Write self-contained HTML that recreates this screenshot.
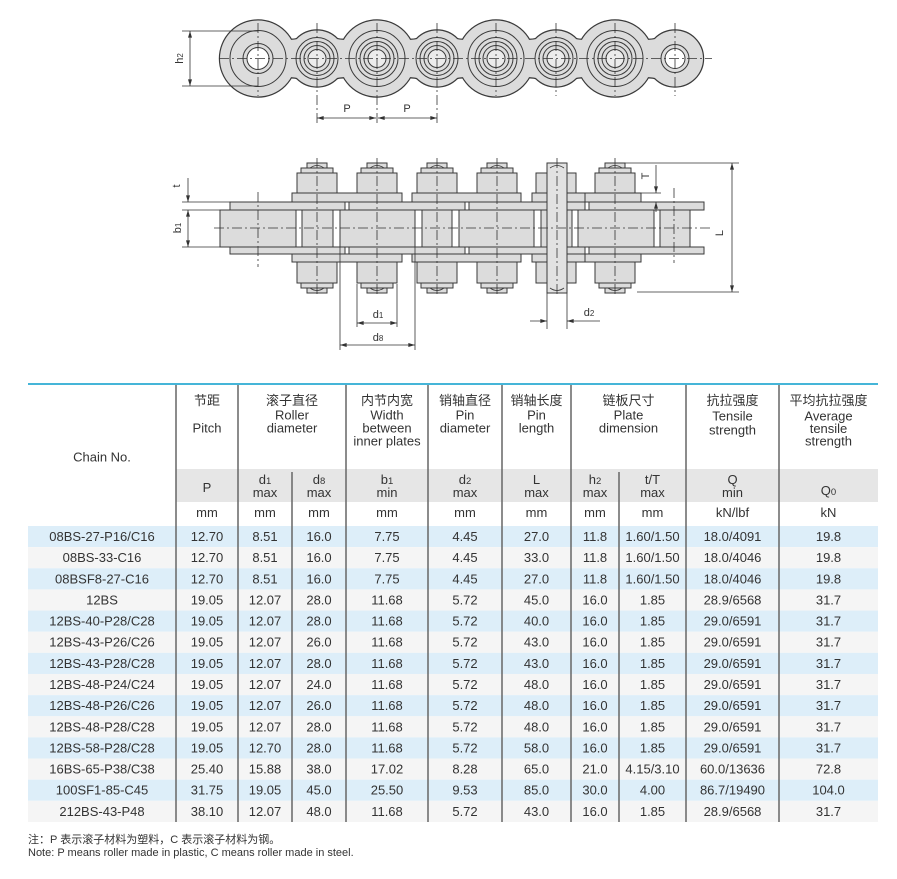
<!DOCTYPE html>
<html><head><meta charset="utf-8"><style>
html,body{margin:0;padding:0;background:#fff;}
svg{display:block;}
text{font-family:"Liberation Sans","Noto Sans CJK SC",sans-serif;}
</style></head><body>
<svg width="897" height="879" viewBox="0 0 897 879" xmlns="http://www.w3.org/2000/svg">
<defs>
<marker id="a" viewBox="0 0 10 6" refX="10" refY="3" markerWidth="7" markerHeight="4" orient="auto-start-reverse" markerUnits="userSpaceOnUse"><path d="M0,0 L10,3 L0,6 z" fill="#333"/></marker>
</defs>
<rect width="897" height="879" fill="#fff"/>

<!-- ===== TOP DRAWING ===== -->
<g stroke="#3a3a3a" stroke-width="2.4" fill="#dcdcdc">
<path d="M258,32 Q287.5,48 317,32 Q347,48 377,32 Q407,48 437,32 Q466.5,48 496,32 Q526,48 556,32 Q585.5,48 615,32 Q645,48 675,32 L675,85 Q645,69 615,85 Q585.5,69 556,85 Q526,69 496,85 Q466.5,69 437,85 Q407,69 377,85 Q347,69 317,85 Q287.5,69 258,85 Z"/>
<circle cx="258" cy="58.5" r="38"/><circle cx="377" cy="58.5" r="38"/><circle cx="496" cy="58.5" r="38"/><circle cx="615" cy="58.5" r="38"/>
<circle cx="317" cy="58.5" r="28"/><circle cx="437" cy="58.5" r="28"/><circle cx="556" cy="58.5" r="28"/><circle cx="675" cy="58.5" r="28"/>
</g>
<g fill="#dcdcdc" stroke="none">
<path d="M258,32 Q287.5,48 317,32 Q347,48 377,32 Q407,48 437,32 Q466.5,48 496,32 Q526,48 556,32 Q585.5,48 615,32 Q645,48 675,32 L675,85 Q645,69 615,85 Q585.5,69 556,85 Q526,69 496,85 Q466.5,69 437,85 Q407,69 377,85 Q347,69 317,85 Q287.5,69 258,85 Z"/>
<circle cx="258" cy="58.5" r="38"/><circle cx="377" cy="58.5" r="38"/><circle cx="496" cy="58.5" r="38"/><circle cx="615" cy="58.5" r="38"/>
<circle cx="317" cy="58.5" r="28"/><circle cx="437" cy="58.5" r="28"/><circle cx="556" cy="58.5" r="28"/><circle cx="675" cy="58.5" r="28"/>
</g>
<g stroke="#3a3a3a" stroke-width="1" fill="none">
<circle cx="258" cy="58.5" r="28"/><circle cx="377" cy="58.5" r="28"/><circle cx="496" cy="58.5" r="28"/><circle cx="615" cy="58.5" r="28"/>
<circle cx="258" cy="58.5" r="15"/>
<circle cx="675" cy="58.5" r="14"/>
<circle cx="317" cy="58.5" r="21"/><circle cx="317" cy="58.5" r="17"/><circle cx="317" cy="58.5" r="13"/>
<circle cx="377" cy="58.5" r="21"/><circle cx="377" cy="58.5" r="17"/><circle cx="377" cy="58.5" r="13"/>
<circle cx="437" cy="58.5" r="21"/><circle cx="437" cy="58.5" r="17"/><circle cx="437" cy="58.5" r="13"/>
<circle cx="496" cy="58.5" r="21"/><circle cx="496" cy="58.5" r="17"/><circle cx="496" cy="58.5" r="13"/>
<circle cx="556" cy="58.5" r="21"/><circle cx="556" cy="58.5" r="17"/><circle cx="556" cy="58.5" r="13"/>
<circle cx="615" cy="58.5" r="21"/><circle cx="615" cy="58.5" r="17"/><circle cx="615" cy="58.5" r="13"/>
</g>
<g stroke="#3a3a3a" stroke-width="1" fill="#ececec">
<circle cx="317" cy="58.5" r="9"/><circle cx="377" cy="58.5" r="9"/><circle cx="437" cy="58.5" r="9"/><circle cx="496" cy="58.5" r="9"/><circle cx="556" cy="58.5" r="9"/><circle cx="615" cy="58.5" r="9"/>
</g>
<g stroke="#3a3a3a" stroke-width="1" fill="#fff">
<circle cx="258" cy="58.5" r="11"/><circle cx="675" cy="58.5" r="10"/>
</g>
<g stroke="#333" stroke-width="0.8" fill="none" stroke-dasharray="10 3 2 3">
<line x1="219" y1="58.5" x2="712" y2="58.5"/>
<line x1="258" y1="23" x2="258" y2="96"/>
<line x1="496" y1="23" x2="496" y2="96"/>
<line x1="556" y1="23" x2="556" y2="96"/>
<line x1="615" y1="23" x2="615" y2="96"/>
<line x1="675" y1="23" x2="675" y2="96"/>
</g>
<g stroke="#333" stroke-width="0.8" fill="none">
<line x1="317" y1="23" x2="317" y2="123" stroke-dasharray="10 3 2 3"/>
<line x1="377" y1="23" x2="377" y2="123" stroke-dasharray="10 3 2 3"/>
<line x1="437" y1="23" x2="437" y2="123" stroke-dasharray="10 3 2 3"/>
<line x1="182" y1="31" x2="258" y2="31"/>
<line x1="182" y1="86" x2="258" y2="86"/>
<line x1="190" y1="31" x2="190" y2="86" marker-start="url(#a)" marker-end="url(#a)"/>
<line x1="317" y1="118" x2="376" y2="118" marker-start="url(#a)" marker-end="url(#a)"/>
<line x1="378" y1="118" x2="437" y2="118" marker-start="url(#a)" marker-end="url(#a)"/>
</g>
<g font-size="11" fill="#333" text-anchor="middle">
<text transform="translate(183,58.5) rotate(-90)">h<tspan font-size="8">2</tspan></text>
<text x="347" y="112">P</text>
<text x="407" y="112">P</text>
</g>

<!-- ===== MIDDLE DRAWING ===== -->
<g stroke="#3a3a3a" stroke-width="1" fill="#dcdcdc">
<rect x="220" y="210" width="76" height="37"/>
<rect x="340" y="210" width="75" height="37"/>
<rect x="459" y="210" width="75" height="37"/>
<rect x="578" y="210" width="76" height="37"/>
<rect x="302" y="210" width="31" height="37"/>
<rect x="422" y="210" width="30" height="37"/>
<rect x="541" y="210" width="31" height="37"/>
<rect x="660" y="210" width="30" height="37"/>
<rect x="230" y="202" width="115" height="8"/><rect x="349" y="202" width="116" height="8"/><rect x="469" y="202" width="116" height="8"/><rect x="589" y="202" width="115" height="8"/>
<rect x="230" y="247" width="115" height="7"/><rect x="349" y="247" width="116" height="7"/><rect x="469" y="247" width="116" height="7"/><rect x="589" y="247" width="115" height="7"/>
<rect x="292" y="193" width="110" height="9"/><rect x="412" y="193" width="109" height="9"/><rect x="532" y="193" width="53" height="9"/><rect x="585" y="193" width="56" height="9"/>
<rect x="292" y="254" width="110" height="8"/><rect x="412" y="254" width="109" height="8"/><rect x="532" y="254" width="53" height="8"/><rect x="585" y="254" width="56" height="8"/>
<rect x="297" y="173" width="40" height="20"/><rect x="357" y="173" width="40" height="20"/><rect x="417" y="173" width="40" height="20"/><rect x="477" y="173" width="40" height="20"/><rect x="536" y="173" width="40" height="20"/><rect x="595" y="173" width="40" height="20"/>
<rect x="297" y="262" width="40" height="21"/><rect x="357" y="262" width="40" height="21"/><rect x="417" y="262" width="40" height="21"/><rect x="477" y="262" width="40" height="21"/><rect x="536" y="262" width="40" height="21"/><rect x="595" y="262" width="40" height="21"/>
<rect x="301" y="168" width="32" height="5"/><rect x="361" y="168" width="32" height="5"/><rect x="421" y="168" width="32" height="5"/><rect x="481" y="168" width="32" height="5"/><rect x="599" y="168" width="32" height="5"/>
<rect x="301" y="283" width="32" height="5"/><rect x="361" y="283" width="32" height="5"/><rect x="421" y="283" width="32" height="5"/><rect x="481" y="283" width="32" height="5"/><rect x="599" y="283" width="32" height="5"/>
<rect x="307" y="163" width="20" height="5"/><rect x="367" y="163" width="20" height="5"/><rect x="427" y="163" width="20" height="5"/><rect x="487" y="163" width="20" height="5"/><rect x="605" y="163" width="20" height="5"/>
<rect x="307" y="288" width="20" height="5"/><rect x="367" y="288" width="20" height="5"/><rect x="427" y="288" width="20" height="5"/><rect x="487" y="288" width="20" height="5"/><rect x="605" y="288" width="20" height="5"/>
<rect x="547" y="163" width="20" height="130" fill="#e2e2e2"/>
</g>
<g stroke="#3a3a3a" stroke-width="0.8" fill="none">
<path d="M310,168 Q317,163 324,168 M370,168 Q377,163 384,168 M430,168 Q437,163 444,168 M490,168 Q497,163 504,168 M608,168 Q615,163 622,168 M550,168 Q557,163 564,168"/>
<path d="M310,288 Q317,293 324,288 M370,288 Q377,293 384,288 M430,288 Q437,293 444,288 M490,288 Q497,293 504,288 M608,288 Q615,293 622,288 M550,288 Q557,293 564,288"/>
</g>
<g stroke="#333" stroke-width="0.8" fill="none" stroke-dasharray="10 3 2 3">
<line x1="214" y1="228" x2="712" y2="228"/>
<line x1="258" y1="192" x2="258" y2="267"/>
<line x1="674" y1="188" x2="674" y2="263"/>
<line x1="317" y1="158" x2="317" y2="297"/>
<line x1="377" y1="158" x2="377" y2="297"/>
<line x1="437" y1="158" x2="437" y2="297"/>
<line x1="497" y1="158" x2="497" y2="297"/>
<line x1="557" y1="158" x2="557" y2="297"/>
<line x1="615" y1="158" x2="615" y2="297"/>
</g>
<g stroke="#333" stroke-width="0.8" fill="none">
<line x1="182" y1="202" x2="230" y2="202"/>
<line x1="182" y1="210" x2="220" y2="210"/>
<line x1="182" y1="247" x2="220" y2="247"/>
<line x1="188" y1="178" x2="188" y2="202" marker-end="url(#a)"/>
<line x1="188" y1="210" x2="188" y2="247" marker-start="url(#a)" marker-end="url(#a)"/>
<line x1="578" y1="193" x2="661" y2="193"/>
<line x1="624" y1="163" x2="739" y2="163"/>
<line x1="637" y1="292" x2="739" y2="292"/>
<line x1="656" y1="165" x2="656" y2="193" marker-end="url(#a)"/>
<line x1="656" y1="212" x2="656" y2="202" marker-end="url(#a)"/>
<line x1="732" y1="163" x2="732" y2="292" marker-start="url(#a)" marker-end="url(#a)"/>
<line x1="357" y1="284" x2="357" y2="327"/>
<line x1="397" y1="284" x2="397" y2="327"/>
<line x1="357" y1="323" x2="397" y2="323" marker-start="url(#a)" marker-end="url(#a)"/>
<line x1="340" y1="247" x2="340" y2="350"/>
<line x1="415" y1="247" x2="415" y2="350"/>
<line x1="340" y1="345" x2="415" y2="345" marker-start="url(#a)" marker-end="url(#a)"/>
<line x1="547" y1="293" x2="547" y2="329"/>
<line x1="567" y1="293" x2="567" y2="329"/>
<line x1="530" y1="321" x2="547" y2="321" marker-end="url(#a)"/>
<line x1="600" y1="321" x2="567" y2="321" marker-end="url(#a)"/>
</g>
<g font-size="11" fill="#333" text-anchor="middle">
<text transform="translate(180,186) rotate(-90)">t</text>
<text transform="translate(181,228) rotate(-90)">b<tspan font-size="8">1</tspan></text>
<text transform="translate(649,176) rotate(-90)">T</text>
<text transform="translate(723,233) rotate(-90)">L</text>
<text x="378" y="318">d<tspan font-size="8">1</tspan></text>
<text x="378" y="341">d<tspan font-size="8">8</tspan></text>
<text x="589" y="316">d<tspan font-size="8">2</tspan></text>
</g>

<!-- ===== TABLE ===== -->
<rect x="28" y="383" width="850" height="2" fill="#45b5d8"/>
<rect x="176" y="469" width="702" height="33" fill="#e6e6e6"/>
<g>
<rect x="28" y="526" width="850" height="21.14" fill="#ddeef9"/>
<rect x="28" y="547.14" width="850" height="21.14" fill="#f5f5f5"/>
<rect x="28" y="568.28" width="850" height="21.14" fill="#ddeef9"/>
<rect x="28" y="589.42" width="850" height="21.14" fill="#f5f5f5"/>
<rect x="28" y="610.56" width="850" height="21.14" fill="#ddeef9"/>
<rect x="28" y="631.7" width="850" height="21.14" fill="#f5f5f5"/>
<rect x="28" y="652.84" width="850" height="21.14" fill="#ddeef9"/>
<rect x="28" y="673.98" width="850" height="21.14" fill="#f5f5f5"/>
<rect x="28" y="695.12" width="850" height="21.14" fill="#ddeef9"/>
<rect x="28" y="716.26" width="850" height="21.14" fill="#f5f5f5"/>
<rect x="28" y="737.4" width="850" height="21.14" fill="#ddeef9"/>
<rect x="28" y="758.54" width="850" height="21.14" fill="#f5f5f5"/>
<rect x="28" y="779.68" width="850" height="21.14" fill="#ddeef9"/>
<rect x="28" y="800.82" width="850" height="21.18" fill="#f5f5f5"/>
</g>
<g stroke="#666" stroke-width="1.5">
<line x1="176" y1="385" x2="176" y2="822"/>
<line x1="238" y1="385" x2="238" y2="822"/>
<line x1="292" y1="472" x2="292" y2="822"/>
<line x1="346" y1="385" x2="346" y2="822"/>
<line x1="428" y1="385" x2="428" y2="822"/>
<line x1="502" y1="385" x2="502" y2="822"/>
<line x1="571" y1="385" x2="571" y2="822"/>
<line x1="619" y1="472" x2="619" y2="822"/>
<line x1="686" y1="385" x2="686" y2="822"/>
<line x1="779" y1="385" x2="779" y2="822"/>
</g>

<g font-size="13" fill="#333" text-anchor="middle">
<text x="102" y="461.5">Chain No.</text>
<text x="207" y="405">节距</text>
<text x="207" y="432.5">Pitch</text>
<text x="292" y="405">滚子直径</text>
<text x="292" y="419.5">Roller</text>
<text x="292" y="432.5">diameter</text>
<text x="387" y="405">内节内宽</text>
<text x="387" y="419.5">Width</text>
<text x="387" y="432.5">between</text>
<text x="387" y="445.5">inner plates</text>
<text x="465" y="405">销轴直径</text>
<text x="465" y="419.5">Pin</text>
<text x="465" y="432.5">diameter</text>
<text x="536.5" y="405">销轴长度</text>
<text x="536.5" y="419.5">Pin</text>
<text x="536.5" y="432.5">length</text>
<text x="628.5" y="405">链板尺寸</text>
<text x="628.5" y="419.5">Plate</text>
<text x="628.5" y="432.5">dimension</text>
<text x="732.5" y="405">抗拉强度</text>
<text x="732.5" y="420.5">Tensile</text>
<text x="732.5" y="434.5">strength</text>
<text x="828.5" y="405">平均抗拉强度</text>
<text x="828.5" y="420.5">Average</text>
<text x="828.5" y="433">tensile</text>
<text x="828.5" y="445.5">strength</text>
<text x="207" y="492">P</text>
<text x="265" y="484">d<tspan font-size="9.5">1</tspan></text><text x="265" y="497">max</text>
<text x="319" y="484">d<tspan font-size="9.5">8</tspan></text><text x="319" y="497">max</text>
<text x="387" y="484">b<tspan font-size="9.5">1</tspan></text><text x="387" y="497">min</text>
<text x="465" y="484">d<tspan font-size="9.5">2</tspan></text><text x="465" y="497">max</text>
<text x="536.5" y="484">L</text><text x="536.5" y="497">max</text>
<text x="595" y="484">h<tspan font-size="9.5">2</tspan></text><text x="595" y="497">max</text>
<text x="652.5" y="484">t/T</text><text x="652.5" y="497">max</text>
<text x="732.5" y="484">Q</text><text x="732.5" y="497">min</text>
<text x="828.5" y="495">Q<tspan font-size="9.5">0</tspan></text>
<text x="207" y="517">mm</text><text x="265" y="517">mm</text><text x="319" y="517">mm</text><text x="387" y="517">mm</text><text x="465" y="517">mm</text><text x="536.5" y="517">mm</text><text x="595" y="517">mm</text><text x="652.5" y="517">mm</text><text x="732.5" y="517">kN/lbf</text><text x="828.5" y="517">kN</text>
</g>

<g font-size="13" fill="#333" text-anchor="middle">
<g transform="translate(0,541)"><text x="102">08BS-27-P16/C16</text><text x="207">12.70</text><text x="265">8.51</text><text x="319">16.0</text><text x="387">7.75</text><text x="465">4.45</text><text x="536.5">27.0</text><text x="595">11.8</text><text x="652.5">1.60/1.50</text><text x="732.5">18.0/4091</text><text x="828.5">19.8</text></g>
<g transform="translate(0,562.1)"><text x="102">08BS-33-C16</text><text x="207">12.70</text><text x="265">8.51</text><text x="319">16.0</text><text x="387">7.75</text><text x="465">4.45</text><text x="536.5">33.0</text><text x="595">11.8</text><text x="652.5">1.60/1.50</text><text x="732.5">18.0/4046</text><text x="828.5">19.8</text></g>
<g transform="translate(0,583.3)"><text x="102">08BSF8-27-C16</text><text x="207">12.70</text><text x="265">8.51</text><text x="319">16.0</text><text x="387">7.75</text><text x="465">4.45</text><text x="536.5">27.0</text><text x="595">11.8</text><text x="652.5">1.60/1.50</text><text x="732.5">18.0/4046</text><text x="828.5">19.8</text></g>
<g transform="translate(0,604.4)"><text x="102">12BS</text><text x="207">19.05</text><text x="265">12.07</text><text x="319">28.0</text><text x="387">11.68</text><text x="465">5.72</text><text x="536.5">45.0</text><text x="595">16.0</text><text x="652.5">1.85</text><text x="732.5">28.9/6568</text><text x="828.5">31.7</text></g>
<g transform="translate(0,625.6)"><text x="102">12BS-40-P28/C28</text><text x="207">19.05</text><text x="265">12.07</text><text x="319">28.0</text><text x="387">11.68</text><text x="465">5.72</text><text x="536.5">40.0</text><text x="595">16.0</text><text x="652.5">1.85</text><text x="732.5">29.0/6591</text><text x="828.5">31.7</text></g>
<g transform="translate(0,646.7)"><text x="102">12BS-43-P26/C26</text><text x="207">19.05</text><text x="265">12.07</text><text x="319">26.0</text><text x="387">11.68</text><text x="465">5.72</text><text x="536.5">43.0</text><text x="595">16.0</text><text x="652.5">1.85</text><text x="732.5">29.0/6591</text><text x="828.5">31.7</text></g>
<g transform="translate(0,667.8)"><text x="102">12BS-43-P28/C28</text><text x="207">19.05</text><text x="265">12.07</text><text x="319">28.0</text><text x="387">11.68</text><text x="465">5.72</text><text x="536.5">43.0</text><text x="595">16.0</text><text x="652.5">1.85</text><text x="732.5">29.0/6591</text><text x="828.5">31.7</text></g>
<g transform="translate(0,689)"><text x="102">12BS-48-P24/C24</text><text x="207">19.05</text><text x="265">12.07</text><text x="319">24.0</text><text x="387">11.68</text><text x="465">5.72</text><text x="536.5">48.0</text><text x="595">16.0</text><text x="652.5">1.85</text><text x="732.5">29.0/6591</text><text x="828.5">31.7</text></g>
<g transform="translate(0,710.1)"><text x="102">12BS-48-P26/C26</text><text x="207">19.05</text><text x="265">12.07</text><text x="319">26.0</text><text x="387">11.68</text><text x="465">5.72</text><text x="536.5">48.0</text><text x="595">16.0</text><text x="652.5">1.85</text><text x="732.5">29.0/6591</text><text x="828.5">31.7</text></g>
<g transform="translate(0,731.3)"><text x="102">12BS-48-P28/C28</text><text x="207">19.05</text><text x="265">12.07</text><text x="319">28.0</text><text x="387">11.68</text><text x="465">5.72</text><text x="536.5">48.0</text><text x="595">16.0</text><text x="652.5">1.85</text><text x="732.5">29.0/6591</text><text x="828.5">31.7</text></g>
<g transform="translate(0,752.4)"><text x="102">12BS-58-P28/C28</text><text x="207">19.05</text><text x="265">12.70</text><text x="319">28.0</text><text x="387">11.68</text><text x="465">5.72</text><text x="536.5">58.0</text><text x="595">16.0</text><text x="652.5">1.85</text><text x="732.5">29.0/6591</text><text x="828.5">31.7</text></g>
<g transform="translate(0,773.5)"><text x="102">16BS-65-P38/C38</text><text x="207">25.40</text><text x="265">15.88</text><text x="319">38.0</text><text x="387">17.02</text><text x="465">8.28</text><text x="536.5">65.0</text><text x="595">21.0</text><text x="652.5">4.15/3.10</text><text x="732.5">60.0/13636</text><text x="828.5">72.8</text></g>
<g transform="translate(0,794.7)"><text x="102">100SF1-85-C45</text><text x="207">31.75</text><text x="265">19.05</text><text x="319">45.0</text><text x="387">25.50</text><text x="465">9.53</text><text x="536.5">85.0</text><text x="595">30.0</text><text x="652.5">4.00</text><text x="732.5">86.7/19490</text><text x="828.5">104.0</text></g>
<g transform="translate(0,815.8)"><text x="102">212BS-43-P48</text><text x="207">38.10</text><text x="265">12.07</text><text x="319">48.0</text><text x="387">11.68</text><text x="465">5.72</text><text x="536.5">43.0</text><text x="595">16.0</text><text x="652.5">1.85</text><text x="732.5">28.9/6568</text><text x="828.5">31.7</text></g>
</g>

<g font-size="11" fill="#333">
<text x="28" y="843">注：P 表示滚子材料为塑料，C 表示滚子材料为钢。</text>
<text x="28" y="856">Note: P means roller made in plastic, C means roller made in steel.</text>
</g>
</svg>
</body></html>
